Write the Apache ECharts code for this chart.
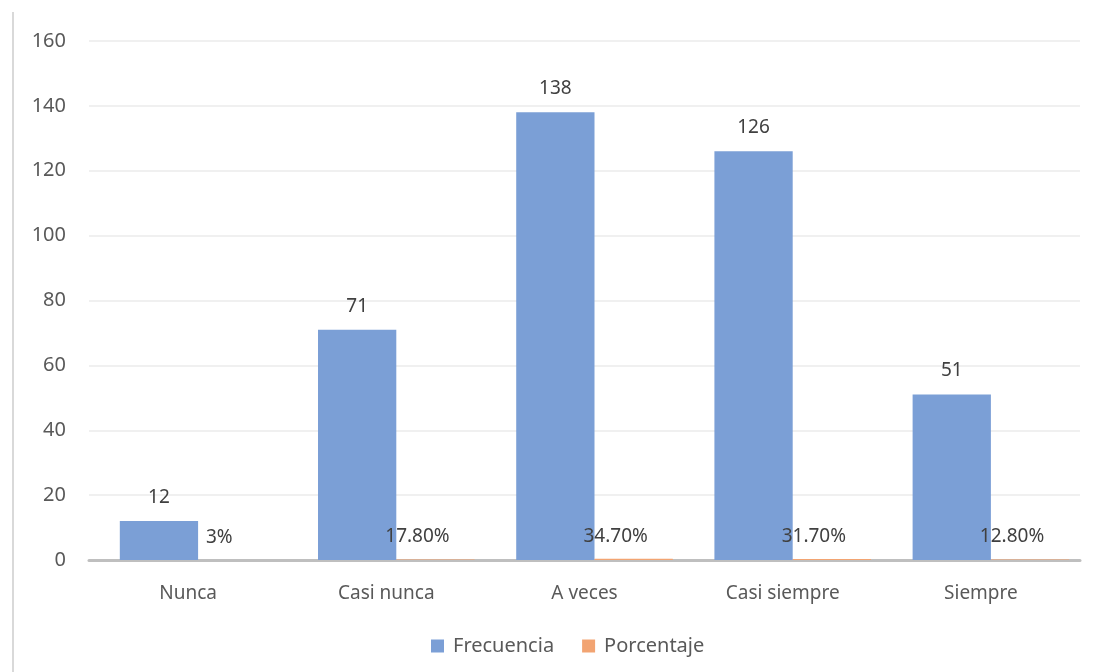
<!DOCTYPE html>
<html>
<head>
<meta charset="utf-8">
<script src="https://cdn.jsdelivr.net/npm/echarts@6/dist/echarts.min.js"></script>
<style>html,body{margin:0;padding:0;background:#fff;}#c{width:1093px;height:672px;}</style>
</head>
<body>
<div id="c"></div>
<script>
var categories = ["Nunca", "Casi nunca", "A veces", "Casi siempre", "Siempre"];
var frecuencia = [12, 71, 138, 126, 51];
var porcentaje = [3, 17.8, 34.7, 31.7, 12.8];
var porcentajeLabels = ["3%", "17.80%", "34.70%", "31.70%", "12.80%"];
var yTicks = [0, 20, 40, 60, 80, 100, 120, 140, 160];

var chart = echarts.init(document.getElementById('c'));
var font = 'Noto Sans';
var textColor = '#595959';
var yMin = yTicks[0], yMax = yTicks[yTicks.length - 1];
chart.setOption({
  animation: false,
  textStyle: {fontFamily: font},
  grid: [
    {left: 89, right: 13, top: 41, bottom: 112, containLabel: false},
    {left: 99, right: 3, top: 41, bottom: 112, containLabel: false}
  ],
  legend: {
    bottom: 11, left: 426,
    itemWidth: 13, itemHeight: 13, itemGap: 28,
    icon: 'rect',
    textStyle: {fontSize: 20, color: textColor, fontFamily: font, padding: [0, 0, 0, 4]},
    data: ['Frecuencia', 'Porcentaje']
  },
  xAxis: [
    {
      type: 'category', data: categories, gridIndex: 0,
      axisLine: {lineStyle: {color: '#bfbfbf', width: 3}},
      axisTick: {show: false},
      axisLabel: {fontSize: 19, color: textColor, margin: 24, fontFamily: font}
    },
    {
      type: 'category', data: categories, gridIndex: 1, show: false
    }
  ],
  yAxis: [
    {
      type: 'value', min: yMin, max: yMax, interval: 20, gridIndex: 0,
      axisLine: {show: false}, axisTick: {show: false},
      axisLabel: {fontSize: 20, color: textColor, margin: 23, fontFamily: font},
      splitLine: {lineStyle: {color: '#ebebeb', width: 1.5}}
    },
    {
      type: 'value', min: yMin, max: yMax, interval: 20, gridIndex: 1, show: false,
      splitLine: {show: false}
    }
  ],
  series: [
    {
      name: 'Frecuencia', type: 'bar', data: frecuencia,
      xAxisIndex: 1, yAxisIndex: 1,
      barGap: '0%', barCategoryGap: '21%',
      itemStyle: {color: '#7b9fd6'},
      label: {show: true, position: 'top', distance: 14, fontSize: 19, color: '#404040', fontFamily: font}
    },
    {
      name: 'Porcentaje', type: 'bar',
      data: porcentaje.map(function (p) { return p / 100; }),
      xAxisIndex: 1, yAxisIndex: 1,
      barGap: '0%', barCategoryGap: '21%',
      itemStyle: {color: '#f2a472'},
      label: {
        show: true, position: 'top', distance: 13, offset: [-18, 0],
        fontSize: 19, color: '#404040', fontFamily: font,
        formatter: function (p) { return porcentajeLabels[p.dataIndex]; }
      }
    }
  ],
  graphic: [{
    type: 'line', shape: {x1: 13, y1: 12, x2: 13, y2: 672},
    style: {stroke: '#d9d9d9', lineWidth: 2}
  }]
});
</script>
</body>
</html>
